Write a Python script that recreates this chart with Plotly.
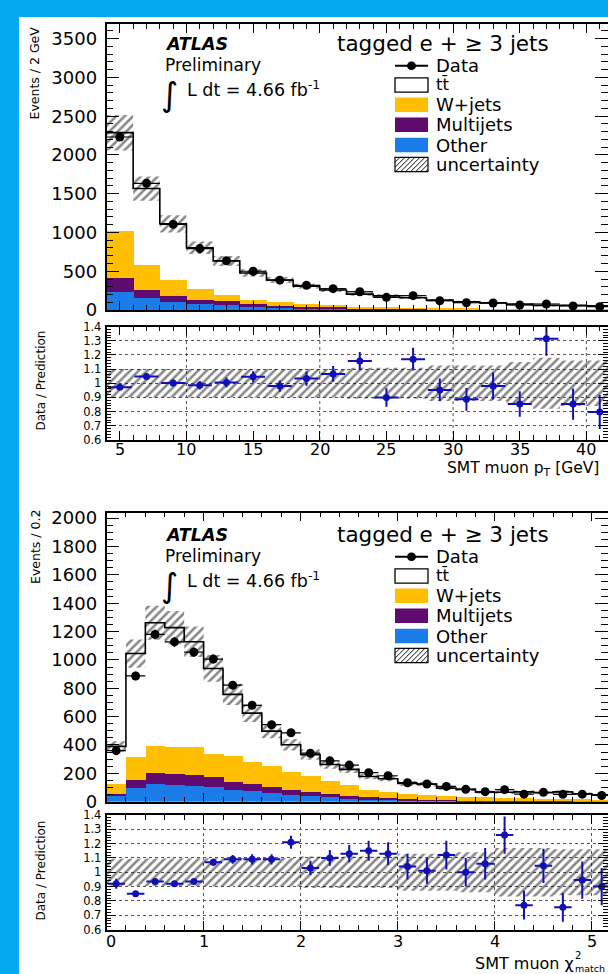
import numpy as np
import plotly.graph_objects as go

# ---------------- panel 1 : SMT muon pT ----------------
pt_centers = [5, 7, 9, 11, 13, 15, 17, 19, 21, 23, 25, 27, 29, 31, 33, 35, 37, 39, 41]
pt_bin_width = 2.0
pt_other = [236, 160, 107, 80, 65, 42, 30, 22, 16, 12, 10, 8, 6, 5, 4, 4, 3, 3, 2]
pt_multijets = [180, 92, 69, 49, 45, 33, 28, 20, 17, 13, 10, 8, 6, 5, 4, 3, 3, 2, 2]
pt_wjets = [601, 333, 211, 138, 90, 60, 45, 36, 29, 20, 17, 14, 12, 10, 8, 7, 6, 6, 5]
pt_ttbar = [1271, 982, 725, 535, 432, 343, 285, 230, 196, 160, 145, 128, 103, 86, 76, 62, 47, 50, 45]
pt_data = [2232, 1635, 1105, 792, 636, 500, 385, 318, 275, 236, 163, 185, 120, 94, 90, 64, 77, 52, 43]
pt_data_err = [47, 40, 33, 28, 25, 22, 20, 18, 17, 15, 13, 14, 11, 10, 9, 8, 9, 7, 7]
pt_ratio = [0.972, 1.047, 1.002, 0.986, 1.005, 1.045, 0.98, 1.033, 1.066, 1.156, 0.90, 1.17,
            0.953, 0.887, 0.98, 0.853, 1.314, 0.853, 0.797]
pt_ratio_err = [0.02, 0.02, 0.025, 0.03, 0.035, 0.04, 0.04, 0.05, 0.055, 0.065, 0.065, 0.08,
                0.08, 0.08, 0.095, 0.09, 0.12, 0.11, 0.12]
pt_rel_unc = [0.10, 0.10, 0.10, 0.10, 0.10, 0.10, 0.10, 0.10, 0.10, 0.11, 0.11, 0.11,
              0.125, 0.125, 0.125, 0.15, 0.18, 0.16, 0.16]
pt_x_range = [4, 41.62]
pt_y_range = [0, 3690]
pt_y_ticks = [0, 500, 1000, 1500, 2000, 2500, 3000, 3500]
pt_x_ticks = [5, 10, 15, 20, 25, 30, 35, 40]
pt_x_grid = [10, 20, 30, 40]

# ---------------- panel 2 : SMT muon chi2 match ----------------
chi_centers = [0.1, 0.3, 0.5, 0.7, 0.9, 1.1, 1.3, 1.5, 1.7, 1.9, 2.1, 2.3, 2.5, 2.7, 2.9,
               3.1, 3.3, 3.5, 3.7, 3.9, 4.1, 4.3, 4.5, 4.7, 4.9, 5.1]
chi_bin_width = 0.2
chi_other = [45, 101, 125, 118, 111, 106, 87, 78, 64, 54, 47, 35, 28, 22, 18, 15, 12, 10, 8, 7, 6, 5, 5, 4, 4, 3]
chi_multijets = [10, 57, 80, 80, 79, 72, 53, 50, 40, 30, 25, 21, 14, 12, 9, 7, 6, 5, 4, 4, 3, 3, 3, 2, 2, 2]
chi_wjets = [75, 160, 190, 194, 198, 162, 185, 157, 151, 126, 113, 94, 78, 51, 43, 38, 34, 29, 26, 23,
             23, 20, 17, 17, 14, 14]
chi_ttbar = [260, 727, 867, 836, 740, 600, 432, 340, 243, 192, 147, 112, 108, 93, 92, 69, 72, 52, 49, 33,
             35, 41, 38, 46, 36, 30]
chi_data = [360, 887, 1180, 1127, 1055, 1006, 822, 680, 543, 486, 342, 288, 258, 205, 183, 134, 125, 108,
            87, 71, 85, 53, 66, 52, 53, 44]
chi_data_err = [19, 30, 34, 34, 32, 32, 29, 26, 23, 22, 18, 17, 16, 14, 14, 12, 11, 10, 9, 8, 9, 7, 8, 7, 7, 7]
chi_ratio = [0.92, 0.85, 0.935, 0.92, 0.935, 1.07, 1.09, 1.09, 1.09, 1.21, 1.03, 1.10, 1.13, 1.15, 1.13,
             1.04, 1.01, 1.12, 1.00, 1.06, 1.26, 0.77, 1.045, 0.755, 0.945, 0.90]
chi_ratio_err = [0.035, 0.015, 0.02, 0.02, 0.02, 0.025, 0.03, 0.035, 0.035, 0.045, 0.05, 0.055, 0.06,
                 0.07, 0.08, 0.09, 0.09, 0.1, 0.1, 0.11, 0.13, 0.1, 0.12, 0.1, 0.13, 0.13]
chi_rel_unc = [0.095, 0.095, 0.095, 0.095, 0.095, 0.10, 0.10, 0.10, 0.10, 0.10, 0.11, 0.11, 0.11, 0.11,
               0.11, 0.13, 0.13, 0.13, 0.14, 0.14, 0.17, 0.17, 0.17, 0.16, 0.16, 0.16]
chi_x_range = [0, 5.165]
chi_y_range = [0, 2040]
chi_y_ticks = [0, 200, 400, 600, 800, 1000, 1200, 1400, 1600, 1800, 2000]
chi_x_ticks = [0, 1, 2, 3, 4, 5]

ratio_range = [0.6, 1.4]
ratio_ticks = [0.6, 0.7, 0.8, 0.9, 1.0, 1.1, 1.2, 1.3, 1.4]
ratio_labels = ["0.6", "0.7", "0.8", "0.9", "1", "1.1", "1.2", "1.3", "1.4"]

legend_names = ["Data", "t\u0074\u0304", "W+jets", "Multijets", "Other", "uncertainty"]

# ---------------- style ----------------
W, H = 608, 974
FONT = "DejaVu Sans"
C_BG = "#03A9F1"
C_W = "#FFBF00"
C_MJ = "#5E0A6E"
C_OTHER = "#1B7BE8"
C_RATIO = "#1010B4"
C_HATCH = "#101010"


def fx(p):
    return p / W


def fy(p):
    return 1 - p / H


X_DOM = [fx(106.5), 1.0]
DOM = {
    "main1": [fy(310), fy(24)],
    "ratio1": [fy(440), fy(326.5)],
    "main2": [fy(801.7), fy(512.5)],
    "ratio2": [fy(929.5), fy(815)],
}

fig = go.Figure()

HATCH = dict(shape="/", fgcolor=C_HATCH, bgcolor="rgba(0,0,0,0)", size=6, solidity=0.42)


def step_band(centers, width, lo, hi):
    c = np.asarray(centers, float)
    edges = np.append(c - width / 2, c[-1] + width / 2)
    xs = np.repeat(edges, 2)[1:-1]
    top = np.repeat(np.asarray(hi, float), 2)
    bot = np.repeat(np.asarray(lo, float), 2)
    return np.concatenate([xs, xs[::-1]]), np.concatenate([top, bot[::-1]])


def add_panel(xm, ym, xr, yr, centers, width, other, multi, wjets, ttbar, data, derr, ratio, rerr, rel):
    for vals, color in [(other, C_OTHER), (multi, C_MJ), (wjets, C_W), (ttbar, "white")]:
        fig.add_trace(go.Bar(x=centers, y=vals, width=width, xaxis=xm, yaxis=ym,
                             marker=dict(color=color, line=dict(width=0)), showlegend=False,
                             hoverinfo="skip"))
    total = np.asarray(other) + np.asarray(multi) + np.asarray(wjets) + np.asarray(ttbar)
    rel = np.asarray(rel, float)
    # hatched uncertainty on prediction
    bx, by = step_band(centers, width, total * (1 - rel), total * (1 + rel))
    fig.add_trace(go.Scatter(x=bx, y=by, xaxis=xm, yaxis=ym, mode="lines", fill="toself",
                             line=dict(width=0), fillcolor="rgba(0,0,0,0)", fillpattern=HATCH,
                             showlegend=False, hoverinfo="skip"))
    # total prediction outline (step)
    c = np.asarray(centers, float)
    edges = np.append(c - width / 2, c[-1] + width / 2)
    fig.add_trace(go.Scatter(x=edges, y=np.append(total, total[-1]), xaxis=xm, yaxis=ym,
                             mode="lines", line=dict(color="black", width=1.6, shape="hv"),
                             showlegend=False, hoverinfo="skip"))
    # data
    fig.add_trace(go.Scatter(x=centers, y=data, xaxis=xm, yaxis=ym, mode="markers",
                             marker=dict(color="black", size=9),
                             error_y=dict(type="data", array=derr, color="black", thickness=1.5, width=0),
                             error_x=dict(type="constant", value=width / 2, color="black", thickness=1.2, width=0),
                             showlegend=False, hoverinfo="skip"))
    # ratio band
    rx, ry = step_band(centers, width, 1 - rel, 1 + rel)
    fig.add_trace(go.Scatter(x=rx, y=ry, xaxis=xr, yaxis=yr, mode="lines", fill="toself",
                             line=dict(width=0), fillcolor="rgba(0,0,0,0)", fillpattern=HATCH,
                             showlegend=False, hoverinfo="skip"))
    fig.add_trace(go.Scatter(x=centers, y=ratio, xaxis=xr, yaxis=yr, mode="markers",
                             marker=dict(color=C_RATIO, size=7),
                             error_y=dict(type="data", array=rerr, color=C_RATIO, thickness=2, width=0),
                             error_x=dict(type="constant", value=width * 0.45, color=C_RATIO, thickness=2, width=0),
                             showlegend=False, hoverinfo="skip"))


add_panel("x", "y", "x2", "y2", pt_centers, pt_bin_width, pt_other, pt_multijets, pt_wjets, pt_ttbar,
          pt_data, pt_data_err, pt_ratio, pt_ratio_err, pt_rel_unc)
add_panel("x3", "y3", "x4", "y4", chi_centers, chi_bin_width, chi_other, chi_multijets, chi_wjets, chi_ttbar,
          chi_data, chi_data_err, chi_ratio, chi_ratio_err, chi_rel_unc)

frame = dict(showline=True, linecolor="black", linewidth=1.5, mirror="allticks", zeroline=False,
             ticks="inside", tickcolor="black", tickwidth=1.2, automargin=False)


def xaxis(anchor, rng, ticks, minor_dtick, grid=False):
    return dict(frame, domain=X_DOM, range=rng, anchor=anchor, tickmode="array", tickvals=ticks,
                showticklabels=False, ticklen=9,
                minor=dict(dtick=minor_dtick, ticks="inside", ticklen=5, tickcolor="black", tickwidth=1),
                showgrid=grid, gridcolor="#555555", griddash="dot", gridwidth=1)


def yaxis_main(anchor, dom, rng, ticks, minor_dtick):
    return dict(frame, domain=dom, range=rng, anchor=anchor, tickmode="array", tickvals=ticks,
                ticktext=[str(t) for t in ticks], ticklen=13, ticklabelstandoff=4,
                minor=dict(dtick=minor_dtick, ticks="inside", ticklen=7, tickcolor="black", tickwidth=1),
                tickfont=dict(family=FONT, size=18, color="black"), showgrid=False)


def yaxis_ratio(anchor, dom):
    return dict(frame, domain=dom, range=ratio_range, anchor=anchor, tickmode="array",
                tickvals=ratio_ticks, ticktext=ratio_labels, ticklen=10, ticklabelstandoff=1,
                minor=dict(dtick=0.02, ticks="inside", ticklen=5, tickcolor="black", tickwidth=1),
                tickfont=dict(family=FONT, size=11.5, color="black"),
                showgrid=True, gridcolor="#555555", griddash="dot", gridwidth=1)


fig.update_layout(
    width=W, height=H, margin=dict(l=0, r=0, t=0, b=0, pad=0, autoexpand=False),
    paper_bgcolor=C_BG, plot_bgcolor="white",
    barmode="stack", bargap=0, showlegend=False,
    font=dict(family=FONT, color="black"),
    xaxis=xaxis("y", pt_x_range, pt_x_ticks, 1),
    yaxis=yaxis_main("x", DOM["main1"], pt_y_range, pt_y_ticks, 100),
    xaxis2=xaxis("y2", pt_x_range, pt_x_ticks, 1),
    yaxis2=yaxis_ratio("x2", DOM["ratio1"]),
    xaxis3=xaxis("y3", chi_x_range, chi_x_ticks, 0.2),
    yaxis3=yaxis_main("x3", DOM["main2"], chi_y_range, chi_y_ticks, 50),
    xaxis4=xaxis("y4", chi_x_range, chi_x_ticks, 0.2, grid=True),
    yaxis4=yaxis_ratio("x4", DOM["ratio2"]),
)

shapes = []
# white canvas inside the blue frame
shapes.append(dict(type="rect", xref="paper", yref="paper", x0=fx(19), x1=1.01, y0=-0.01, y1=fy(17),
                   fillcolor="white", line=dict(width=0), layer="below"))
# vertical dotted grid of first ratio panel
for g in pt_x_grid:
    shapes.append(dict(type="line", xref="x2", yref="y2 domain", x0=g, x1=g, y0=0, y1=1,
                       line=dict(color="#555555", width=1, dash="dot"), layer="below"))

annotations = []


def text(t, x, y, size, xa="left", ya="middle", angle=0, xref="paper"):
    annotations.append(dict(text=t, x=(fx(x) if xref == "paper" else x), y=fy(y), xref=xref, yref="paper",
                            xanchor=xa, yanchor=ya, showarrow=False, textangle=angle,
                            font=dict(family=FONT, size=size, color="black")))


# x tick labels of the ratio panels (placed on the data axis)
for t in pt_x_ticks:
    text(str(t), t, 449.5, 16, xa="center", xref="x2")
for t in chi_x_ticks:
    text(str(t), t + (0.05 if t == 0 else 0), 941.5, 16, xa="center", xref="x4")


def legend_and_labels(dy):
    text("<b><i>ATLAS</i></b>", 163, 44 + dy, 17.5)
    text("Preliminary", 163, 64.5 + dy, 17)
    text("\u222b", 169, 94 + dy, 33, xa="center")
    text("L dt = 4.66 fb<sup>-1</sup>", 185, 89 + dy, 17.5)
    text("tagged e + \u2265 3 jets", 335, 43 + dy, 21.5)
    # legend
    x0, x1 = 395, 428
    rows = [65.7, 85, 104.7, 124.8, 145, 164.5]
    hh = 7.2
    shapes.append(dict(type="line", xref="paper", yref="paper", x0=fx(x0), x1=fx(x1),
                       y0=fy(rows[0] + dy), y1=fy(rows[0] + dy), line=dict(color="black", width=2)))
    shapes.append(dict(type="circle", xref="paper", yref="paper", x0=fx(407), x1=fx(416),
                       y0=fy(rows[0] + dy - 4.3), y1=fy(rows[0] + dy + 4.3), fillcolor="black",
                       line=dict(width=0)))
    fills = [("white", 1.3), (C_W, 0), (C_MJ, 0), (C_OTHER, 0), ("white", 1.2)]
    for (fc, lw), ry in zip(fills, rows[1:]):
        yc = ry + dy
        shapes.append(dict(type="rect", xref="paper", yref="paper", x0=fx(x0), x1=fx(x1),
                           y0=fy(yc + hh), y1=fy(yc - hh), fillcolor=fc,
                           line=dict(color="black", width=lw)))
    # hatch inside uncertainty box
    yc = rows[5] + dy
    yb, yt = yc + hh, yc - hh
    h = yb - yt
    for k in np.arange(-h, x1 - x0, 5.0):
        sx = x0 + k
        t0 = max(0.0, (x0 - sx) / h)
        t1 = min(1.0, (x1 - sx) / h)
        if t1 > t0:
            shapes.append(dict(type="line", xref="paper", yref="paper",
                               x0=fx(sx + t0 * h), y0=fy(yb - t0 * h), x1=fx(sx + t1 * h), y1=fy(yb - t1 * h),
                               line=dict(color=C_HATCH, width=1)))
    for name, ry in zip(legend_names, rows):
        is_tt = name.startswith("t")
        text(name, 434, ry + dy - (0.5 if is_tt else 0), 16.5 if is_tt else 18)


legend_and_labels(0)
legend_and_labels(491)

# axis titles
text("Events / 2 GeV", 34, 25, 12.5, xa="center", ya="top", angle=-90)
text("Data / Prediction", 40.5, 329, 12, xa="center", ya="top", angle=-90)
text("SMT muon p<sub>T</sub> [GeV]", 445, 469, 15.5)
text("Events / 0.2", 35, 508, 12.5, xa="center", ya="top", angle=-90)
text("Data / Prediction", 40.5, 819, 12, xa="center", ya="top", angle=-90)
text("SMT muon \u03c7", 473, 963, 16)
text("2", 573, 955, 10)
text("match", 573, 968.5, 9.5)

fig.update_layout(shapes=shapes, annotations=annotations)

fig.write_html("out.html", config={"displayModeBar": False},
               post_script="document.body.style.margin='0';")
